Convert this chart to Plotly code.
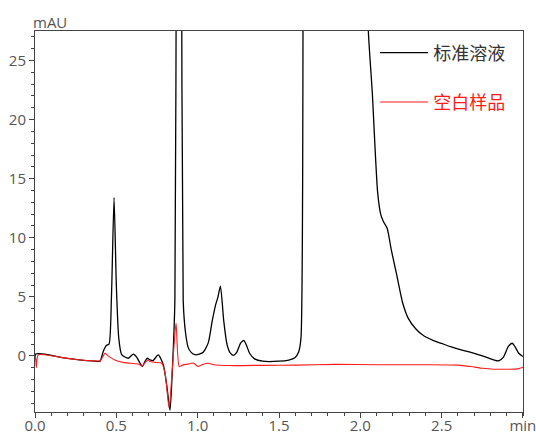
import plotly.graph_objects as go

# 标准溶液 (standard solution) - time (min), absorbance (mAU)
std_t = [0.000, 0.004, 0.06, 0.15, 0.25, 0.37, 0.40, 0.42, 0.44, 0.455, 0.47, 0.486, 0.50,
         0.515, 0.533, 0.574, 0.604, 0.625, 0.645, 0.66, 0.675, 0.69, 0.707, 0.725, 0.758,
         0.789, 0.81, 0.83, 0.845, 0.86, 0.87, 0.885, 0.90, 0.911, 0.925, 0.942, 0.96, 0.983,
         1.01, 1.034, 1.065, 1.09, 1.11, 1.125, 1.14, 1.16, 1.18, 1.20, 1.22, 1.24, 1.265,
         1.285, 1.30, 1.32, 1.35, 1.40, 1.50, 1.56, 1.598, 1.62, 1.635, 1.65, 1.70, 1.85,
         2.00, 2.04, 2.049, 2.073, 2.106, 2.125, 2.141, 2.165, 2.19, 2.223, 2.26, 2.294,
         2.34, 2.39, 2.45, 2.50, 2.55, 2.62, 2.68, 2.75, 2.82, 2.85, 2.88, 2.91, 2.934,
         2.95, 2.975, 3.00]
std_v = [-0.3, 0.15, 0.15, -0.1, -0.3, -0.45, -0.45, 0.4, 0.9, 1.0, 5.0, 13.4, 6.0,
         1.5, 0.1, -0.2, 0.15, -0.1, -0.6, -0.9, -0.5, -0.2, -0.34, -0.4, 0.08,
         -0.76, -2.5, -4.6, -1.0, 4.7, 40.0, 60.0, 40.0, 4.7, 2.0, 0.7, 0.3, 0.1,
         0.15, 0.3, 1.1, 3.0, 4.3, 5.0, 5.9, 3.0, 1.0, 0.25, 0.05, 0.3, 1.1,
         1.3, 0.9, 0.2, -0.25, -0.45, -0.45, -0.35, -0.15, 0.3, 1.5, 40.0, 120.0, 200.0,
         120.0, 40.0, 27.6, 22.4, 13.9, 12.0, 11.4, 10.8, 9.0, 6.9, 4.5, 3.2,
         2.3, 1.7, 1.3, 1.05, 0.8, 0.5, 0.3, 0.0, -0.34, -0.42, -0.1, 0.8, 1.07,
         0.8, 0.2, -0.05]

# 空白样品 (blank sample)
blank_t = [0.000, 0.004, 0.008, 0.012, 0.02, 0.06, 0.15, 0.25, 0.37, 0.40, 0.42, 0.43,
           0.45, 0.49, 0.55, 0.635, 0.66, 0.675, 0.695, 0.707, 0.74, 0.779, 0.80, 0.824,
           0.845, 0.867, 0.887, 0.911, 0.94, 0.973, 1.004, 1.035, 1.065, 1.10, 1.20, 1.40,
           1.60, 1.85, 2.10, 2.40, 2.60, 2.68, 2.75, 2.82, 2.90, 2.97, 3.00]
blank_v = [0.0, -0.2, -1.0, -0.3, 0.1, 0.1, -0.1, -0.3, -0.42, -0.42, 0.0, 0.23,
           0.0, -0.34, -0.57, -0.68, -0.85, -0.6, -0.35, -0.48, -0.55, -0.62, -1.5, -4.4,
           -1.0, 2.77, -0.9, -0.76, -0.7, -0.6, -0.9, -0.7, -0.62, -0.75, -0.82, -0.8,
           -0.78, -0.72, -0.75, -0.75, -0.78, -0.9, -1.05, -1.13, -1.13, -1.1, -0.96]

x_tickvals = [0.0, 0.5, 1.0, 1.5, 2.0, 2.5, 2.999]
x_ticktext = ["0.0", "0.5", "1.0", "1.5", "2.0", "2.5", "min"]
y_tickvals = [0, 5, 10, 15, 20, 25]

fig = go.Figure()
fig.add_trace(go.Scatter(x=std_t, y=std_v, mode="lines", name="标准溶液",
                         legendgroup="a",
                         line=dict(color="#000000", width=1.3, shape="spline", smoothing=0.6)))
fig.add_trace(go.Scatter(x=blank_t, y=blank_v, mode="lines",
                         name="<span style='color:#ff1a1a'>空白样品</span>",
                         legendgroup="b",
                         line=dict(color="#ff1a1a", width=1.1, shape="spline", smoothing=0.6)))

axis_font = dict(family="Open Sans, Noto Sans, sans-serif", size=15, color="#555555")
fig.update_layout(
    width=536, height=435,
    margin=dict(l=35, r=13, t=31, b=23),
    paper_bgcolor="white", plot_bgcolor="white",
    showlegend=True,
    legend=dict(x=0.697, y=0.991, xanchor="left", yanchor="top",
                bgcolor="rgba(0,0,0,0)", tracegroupgap=23, itemwidth=48,
                font=dict(family="Noto Sans CJK SC, sans-serif", size=18, color="#333333")),
    xaxis=dict(range=[0, 3.0], tickvals=x_tickvals, ticktext=x_ticktext, automargin=False,
               showgrid=False, zeroline=False, showline=True, mirror=True,
               linecolor="#444444", linewidth=1, ticks="outside", ticklen=5,
               tickcolor="#444444", tickfont=axis_font, ticklabelstandoff=-5,
               ticklabeloverflow="allow",
               minor=dict(dtick=0.1, ticks="outside", ticklen=3, tickcolor="#444444")),
    yaxis=dict(range=[-4.75, 27.5], tickvals=y_tickvals, automargin=False,
               showgrid=False, zeroline=False, showline=True, mirror=True,
               linecolor="#444444", linewidth=1, ticks="outside", ticklen=5,
               tickcolor="#444444", tickfont=axis_font,
               minor=dict(dtick=1, tick0=0, ticks="outside", ticklen=3, tickcolor="#444444")),
    annotations=[dict(text="mAU", x=0, y=1, xref="paper", yref="paper",
                      xanchor="left", yanchor="bottom", showarrow=False,
                      font=axis_font, yshift=-3, xshift=-4)],
)

fig.write_html("out.html", config={"displayModeBar": False},
               post_script="document.body.style.margin='0';")
